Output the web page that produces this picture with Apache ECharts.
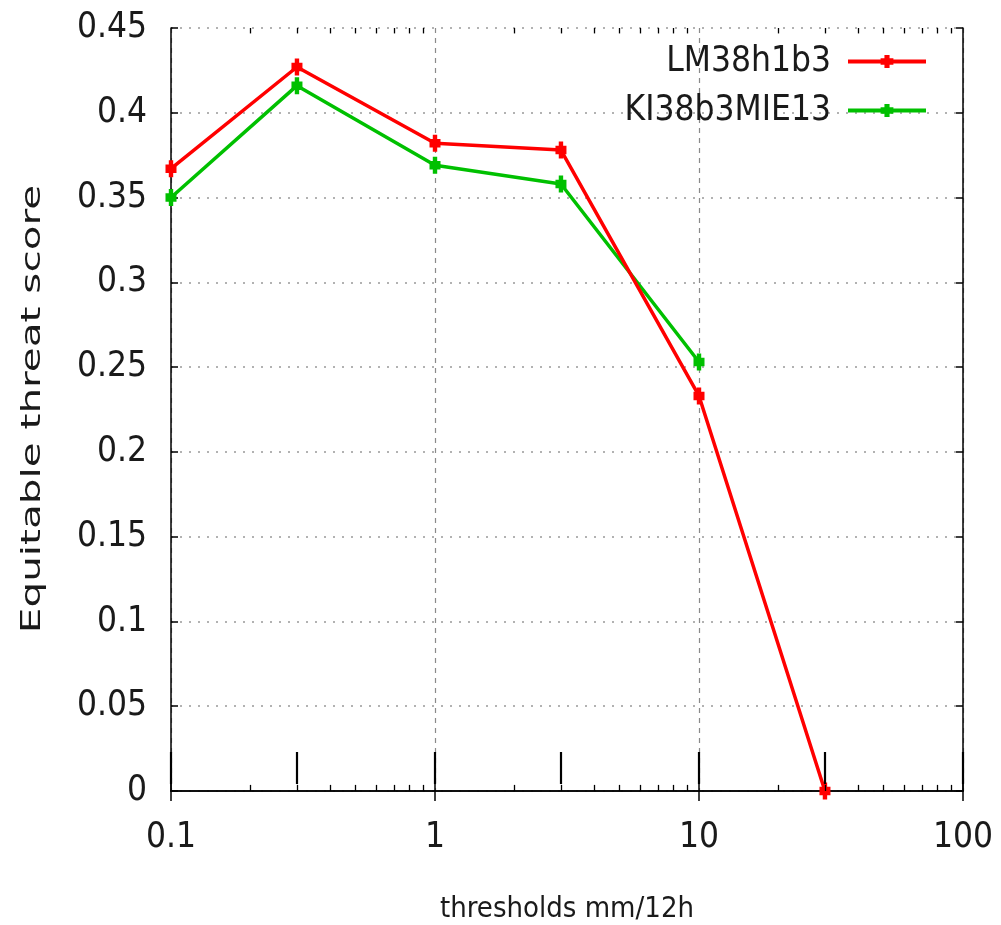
<!DOCTYPE html>
<html><head><meta charset="utf-8">
<script src="https://cdn.jsdelivr.net/npm/echarts@6/dist/echarts.min.js"></script>
<style>html,body{margin:0;padding:0;background:#fff}#c{width:1001px;height:925px}</style>
</head><body><div id="c"></div>
<script>
// ---- data ----
const thresholds = [0.1, 0.3, 1, 3, 10, 30];
const lmValues = [0.367, 0.427, 0.382, 0.378, 0.233, 0.0];
const klValues = [0.350, 0.416, 0.369, 0.358, 0.253];
const seriesNames = ['LM38h1b3', 'KI38b3MIE13'];
const longTickX = [0.1, 0.3, 1, 3, 10, 30, 100];
const decades = [0.1, 1, 10];
const minorMult = [2, 3, 4, 5, 6, 7, 8, 9];
const xTitle = 'thresholds mm/12h';
const yTitle = 'Equitable threat score';

const NARROW = '"Liberation Sans Narrow", "DejaVu Sans Condensed", "Liberation Sans", sans-serif';
const TXT = '#1a1a1a';

function pair(x, y0, y1) { return [{coord: [x, y0]}, {coord: [x, y1]}]; }
const minorX = [];
decades.forEach(d => minorMult.forEach(m => minorX.push(d * m)));
const tickLines = [];
minorX.forEach(x => { tickLines.push(pair(x, 0, 0.0036)); tickLines.push(pair(x, 0.45, 0.4468)); });
const longLines = longTickX.map(x => pair(x, 0.0041, 0.023));

const sym = 'path://M3,0H7V4H10V12H7V16H3V12H0V4H3Z';

const chart = echarts.init(document.getElementById('c'), null, {renderer: 'canvas'});
chart.setOption({
  animation: false,
  backgroundColor: '#fff',
  grid: {left: 171, right: 38, top: 28, bottom: 134, containLabel: false, outerBoundsMode: 'none'},
  legend: {
    data: seriesNames, orient: 'vertical', right: 73, top: 44, align: 'right',
    itemWidth: 78, itemHeight: 16, itemGap: 14, padding: 0,
    lineStyle: {width: 4},
    textStyle: {fontFamily: NARROW, fontSize: 35, color: TXT, padding: [0, 12, 0, 0]}
  },
  xAxis: [{
    type: 'log', logBase: 10, min: 0.1, max: 100, position: 'bottom',
    axisLine: {lineStyle: {color: '#000', width: 1.5}},
    axisTick: {inside: true, length: 10, lineStyle: {color: '#000', width: 1.5}},
    axisLabel: {margin: 29, fontFamily: NARROW, fontSize: 35, color: TXT,
      formatter: v => String(Number(v.toPrecision(3)))},
    splitLine: {show: true, lineStyle: {color: '#8a8a8a', type: [5, 5], width: 1.2}},
    name: xTitle, nameLocation: 'middle', nameGap: 104,
    nameTextStyle: {fontFamily: NARROW, fontSize: 29, color: TXT}
  }, {
    type: 'log', logBase: 10, min: 0.1, max: 100, position: 'top',
    axisLine: {lineStyle: {color: '#000', width: 1.5}},
    axisTick: {inside: true, length: 10, lineStyle: {color: '#000', width: 1.5}},
    axisLabel: {show: false}, splitLine: {show: false}
  }],
  yAxis: [{
    type: 'value', min: 0, max: 0.45, interval: 0.05, position: 'left',
    axisLine: {show: true, lineStyle: {color: '#000', width: 1.5}},
    axisTick: {show: true, inside: true, length: 7, lineStyle: {color: '#000', width: 1.5}},
    axisLabel: {margin: 24, fontFamily: NARROW, fontSize: 35, color: TXT},
    splitLine: {show: true, lineStyle: {color: '#999', type: [2, 7], width: 1.6}}
  }, {
    type: 'value', min: 0, max: 0.45, interval: 0.05, position: 'right',
    axisLine: {show: true, lineStyle: {color: '#000', width: 1.5}},
    axisTick: {show: true, inside: true, length: 7, lineStyle: {color: '#000', width: 1.5}},
    axisLabel: {show: false}, splitLine: {show: false}
  }],
  graphic: [{
    type: 'text', x: 33, y: 409, rotation: Math.PI / 2, scaleX: 1.5,
    style: {text: yTitle, font: '27px "DejaVu Sans"', fill: TXT, align: 'center', verticalAlign: 'middle'}
  }],
  series: [{
    name: seriesNames[0], type: 'line', xAxisIndex: 0, yAxisIndex: 0,
    data: thresholds.map((x, i) => [x, lmValues[i]]),
    symbol: sym, symbolSize: [11, 17], showAllSymbol: true, clip: false,
    itemStyle: {color: '#ff0000'}, lineStyle: {color: '#ff0000', width: 3.5}, z: 4
  }, {
    name: seriesNames[1], type: 'line', xAxisIndex: 0, yAxisIndex: 0,
    data: klValues.map((v, i) => [thresholds[i], v]),
    symbol: sym, symbolSize: [11, 17], showAllSymbol: true, clip: false,
    itemStyle: {color: '#00c000'}, lineStyle: {color: '#00c000', width: 3.5}, z: 3
  }, {
    name: 'ticks', type: 'line', xAxisIndex: 0, yAxisIndex: 0, data: [], silent: true,
    markLine: {silent: true, symbol: 'none', animation: false, label: {show: false},
      lineStyle: {color: '#000', width: 1.3, type: 'solid'}, data: tickLines}
  }, {
    name: 'longticks', type: 'line', xAxisIndex: 0, yAxisIndex: 0, data: [], silent: true,
    markLine: {silent: true, symbol: 'none', animation: false, label: {show: false},
      lineStyle: {color: '#000', width: 2.2, type: 'solid'}, data: longLines}
  }]
});
</script></body></html>
